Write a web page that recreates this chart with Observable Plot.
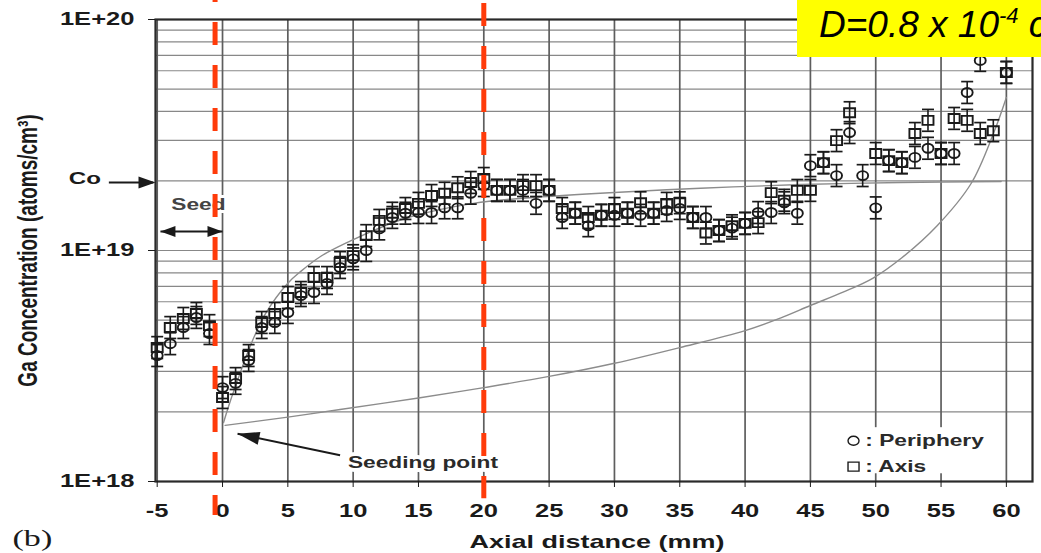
<!DOCTYPE html>
<html><head><meta charset="utf-8">
<script src="https://cdn.jsdelivr.net/npm/d3@7"></script>
<script src="https://cdn.jsdelivr.net/npm/@observablehq/plot@0.6"></script>
<style>
html,body{margin:0;padding:0;background:#fff;}
#wrap{position:relative;width:1041px;height:553px;overflow:hidden;}
#dbox{position:absolute;left:797px;top:0;width:244px;height:57px;background:#ffff00;overflow:hidden;white-space:nowrap;font-family:"Liberation Sans",Arial,sans-serif;font-style:italic;font-size:37px;line-height:50px;padding-left:22px;box-sizing:border-box;color:#000;}
#dbox sup{font-size:22px;vertical-align:14px;line-height:0;}
</style></head><body>
<div id="wrap"><div id="dbox">D=0.8 x 10<sup>-4</sup> cm<sup>2</sup>/s</div></div>
<script>
// ---- data ----
const xPos = [-5,-4,-3,-2,-1,0,1,2,3,4,5,6,7,8,9,10,11,12,13,14,15,16,17,18,19,20,21,22,23,24,25,26,27,28,29,30,31,32,33,34,35,36,37,38,39,40,41,42,43,44,45,46,47,48,49,50,51,52,53,54,55,56,57,58,59,60];
const axisConc = [3.80e18,4.64e18,5.08e18,5.34e18,4.73e18,
  2.31e18,2.79e18,3.51e18,4.88e18,5.34e18,6.26e18,6.58e18,7.64e18,7.64e18,8.87e18,9.5e18,
  1.16e19,1.35e19,1.45e19,1.52e19,1.60e19,1.73e19,1.77e19,1.87e19,1.97e19,2.05e19,
  1.82e19,1.82e19,1.91e19,1.91e19,1.82e19,1.52e19,1.45e19,1.39e19,1.42e19,1.52e19,
  1.45e19,1.61e19,1.45e19,1.60e19,1.61e19,1.39e19,1.19e19,1.22e19,1.28e19,1.31e19,
  1.32e19,1.78e19,1.65e19,1.82e19,1.82e19,2.40e19,2.99e19,3.95e19,null,2.63e19,
  2.45e19,2.40e19,3.21e19,3.66e19,2.63e19,3.73e19,3.66e19,3.21e19,3.30e19,5.90e19];
const periConc = [3.51e18,3.95e18,4.64e18,5.13e18,4.37e18,
  2.55e18,2.66e18,3.34e18,4.64e18,4.88e18,5.39e18,6.38e18,6.58e18,7.2e18,8.44e18,9.2e18,
  1.0e19,1.24e19,1.39e19,1.45e19,1.46e19,1.46e19,1.53e19,1.53e19,1.77e19,1.91e19,
  1.82e19,1.82e19,1.82e19,1.60e19,1.82e19,1.39e19,1.45e19,1.28e19,1.42e19,1.42e19,
  1.45e19,1.42e19,1.45e19,1.49e19,1.52e19,1.39e19,1.39e19,1.22e19,1.25e19,1.31e19,
  1.46e19,1.46e19,1.61e19,1.45e19,2.33e19,2.40e19,2.11e19,3.24e19,2.11e19,1.53e19,
  2.45e19,2.40e19,2.53e19,2.77e19,2.63e19,2.63e19,4.83e19,6.65e19,null,5.90e19];
const upperX = [0.08,0.61,1.15,2.14,3.29,4.98,5.97,7.5,9.8,12.3,14.4,19.2,22.8,28.9,36.6,44.3,51.9,59.6];
const upperC = [1.80e18,2.24e18,2.74e18,3.88e18,5.33e18,7.2e18,8.1e18,9.42e18,1.10e19,1.27e19,1.40e19,1.60e19,1.68e19,1.77e19,1.86e19,1.93e19,1.97e19,1.99e19];
const lowerX = [0.2,5,9,15,20,25,30,35,40,42.7,45,47.5,49.8,52,54.7,57.3,59,60];
const lowerC = [1.75e18,1.9e18,2.05e18,2.3e18,2.55e18,2.85e18,3.25e18,3.8e18,4.5e18,5.1e18,5.78e18,6.6e18,7.6e18,9.3e18,1.28e19,1.95e19,3.2e19,4.6e19];
const errFactor = 1.115;
const xTicks = [-5,0,5,10,15,20,25,30,35,40,45,50,55,60];
const yTicks = [1e18,1e19,1e20];
const yGrid = [2e18,3e18,4e18,5e18,6e18,7e18,8e18,9e18,1e19,2e19,3e19,4e19,5e19,6e19,7e19,8e19,9e19];
const redLineX = [-0.57, 20];
const C0 = 1.97e19;

// ---- annotation anchors (data units) ----
const coArrow = {x1:-8.7, x2:-5.3, y:C0, tipX:-5.13};
const seedArrow = {x1:-4.75, x2:0, y:1.21e19};
const seedLabel = {x:-1.84, y:1.57e19};
const seedPtArrow = {x1:9.0, y1:1.30e18, x2:1.15, y2:1.61e18};
const seedPtLabel = {x:9.6, y:1.21e18};
const legendBox = {x1:47.3, x2:59.6, y1:1.08e18, y2:1.71e18};
const legendRows = [{x:48.3, tx:49.2, y:1.50e18, label:": Periphery", kind:"c"},{x:48.3, tx:49.2, y:1.16e18, label:": Axis", kind:"s"}];

const axisData = xPos.map((x,i)=>({x, c:axisConc[i]})).filter(d=>d.c!=null);
const periData = xPos.map((x,i)=>({x, c:periConc[i]})).filter(d=>d.c!=null);
const allData = axisData.concat(periData);
const upper = upperX.map((x,i)=>({x, c:upperC[i]}));
const lower = lowerX.map((x,i)=>({x, c:lowerC[i]}));

// custom symbols
const squareSym = {draw(ctx){ ctx.rect(-5.5,-4.5,11,9); }};
const ellipseSym = {draw(ctx){ const a=5.5,b=4.5,k=0.5523;
  ctx.moveTo(a,0); ctx.bezierCurveTo(a,b*k,a*k,b,0,b); ctx.bezierCurveTo(-a*k,b,-a,b*k,-a,0);
  ctx.bezierCurveTo(-a,-b*k,-a*k,-b,0,-b); ctx.bezierCurveTo(a*k,-b,a,-b*k,a,0); ctx.closePath(); }};
const capSym = {draw(ctx){ ctx.moveTo(-6,0); ctx.lineTo(6,0); }};
function head(angle,len,wid){ const a=angle*Math.PI/180, ux=Math.cos(a), uy=Math.sin(a);
  return {draw(ctx){ const bx=-ux*len, by=-uy*len, px=-uy*wid/2, py=ux*wid/2;
    ctx.moveTo(0,0); ctx.lineTo(bx+px,by+py); ctx.lineTo(bx-px,by-py); ctx.closePath(); }}; }
const spAngle = Math.atan2(-22,-103)*180/Math.PI;

const font = "'Liberation Sans', Arial, sans-serif";
const ink = "#1a1a1a";

const chart = Plot.plot({
  width: 1041, height: 553,
  marginLeft: 155, marginRight: 9, marginTop: 19, marginBottom: 72,
  style: {fontFamily: font, fontWeight: "bold", fontSize: "18px", color: ink, background: "transparent"},
  x: {domain: [-5.13, 62.0]},
  y: {type: "log", domain: [1e18, 1e20]},
  marks: [
    Plot.ruleY(yGrid, {stroke: "#888", strokeWidth: 1.2}),
    Plot.ruleX(xTicks, {stroke: "#5e5e5e", strokeWidth: 1.7}),
    Plot.rect([legendBox], {x1: "x1", x2: "x2", y1: "y1", y2: "y2", fill: "white"}),
    Plot.frame({stroke: "#2a2a2a", strokeWidth: 2.2}),
    Plot.axisX({ticks: xTicks, tickSize: 6, tickPadding: 17, tickFormat: d => String(d), fontSize: 18, fontWeight: "bold", label: null, stroke: ink}),
    Plot.axisY({ticks: yTicks, tickSize: 7, tickPadding: 14, tickFormat: d => "1E+" + Math.round(Math.log10(d)), fontSize: 18, fontWeight: "bold", label: null, stroke: ink}),
    Plot.line(upper, {x: "x", y: "c", curve: "catmull-rom", stroke: "#8c8c8c", strokeWidth: 1.4}),
    Plot.line(lower, {x: "x", y: "c", curve: "catmull-rom", stroke: "#8c8c8c", strokeWidth: 1.4}),
    Plot.ruleX(allData, {x: "x", y1: d => d.c / errFactor, y2: d => d.c * errFactor, stroke: ink, strokeWidth: 1.6}),
    Plot.dot(allData, {x: "x", y: d => d.c / errFactor, symbol: capSym, stroke: ink, strokeWidth: 1.7}),
    Plot.dot(allData, {x: "x", y: d => d.c * errFactor, symbol: capSym, stroke: ink, strokeWidth: 1.7}),
    Plot.dot(periData, {x: "x", y: "c", symbol: ellipseSym, stroke: ink, strokeWidth: 1.9, fill: "none"}),
    Plot.dot(axisData, {x: "x", y: "c", symbol: squareSym, stroke: ink, strokeWidth: 1.9, fill: "none"}),
    // C0 annotation
    Plot.text(["Co"], {x: -9.3, y: 2.05e19, textAnchor: "end", fontSize: 17, fontWeight: "bold", fill: ink}),
    Plot.link([coArrow], {x1: "x1", x2: "x2", y1: "y", y2: "y", stroke: ink, strokeWidth: 2}),
    Plot.dot([coArrow], {x: "tipX", y: "y", symbol: head(0,17,12), fill: ink, stroke: "none"}),
    // seed annotation
    Plot.text(["Seed"], {x: seedLabel.x, y: seedLabel.y, fontSize: 16, fontWeight: "bold", fill: "#444", stroke: "white", strokeWidth: 6}),
    Plot.link([seedArrow], {x1: "x1", x2: "x2", y1: "y", y2: "y", stroke: ink, strokeWidth: 2}),
    Plot.dot([seedArrow], {x: "x2", y: "y", symbol: head(0,15,11), fill: ink, stroke: "none"}),
    Plot.dot([seedArrow], {x: "x1", y: "y", symbol: head(180,15,11), fill: ink, stroke: "none"}),
    // seeding point annotation
    Plot.text(["Seeding point"], {x: seedPtLabel.x, y: seedPtLabel.y, textAnchor: "start", fontSize: 16, fontWeight: "bold", fill: "#2a2a2a", stroke: "white", strokeWidth: 8}),
    Plot.link([seedPtArrow], {x1: "x1", y1: "y1", x2: "x2", y2: "y2", stroke: ink, strokeWidth: 2}),
    Plot.dot([seedPtArrow], {x: "x2", y: "y2", symbol: head(spAngle,22,13), fill: ink, stroke: "none"}),
    // legend
    Plot.dot(legendRows.filter(d => d.kind === "c"), {x: "x", y: "y", symbol: ellipseSym, stroke: ink, strokeWidth: 1.4, fill: "none"}),
    Plot.dot(legendRows.filter(d => d.kind === "s"), {x: "x", y: "y", symbol: squareSym, stroke: ink, strokeWidth: 1.4, fill: "none"}),
    Plot.text(legendRows, {x: "tx", y: "y", text: "label", textAnchor: "start", fontSize: 16, fontWeight: "bold", fill: "#2a2a2a"}),
    // axis titles and panel tag
    Plot.text(["Axial distance (mm)"], {frameAnchor: "bottom", textAnchor: "middle", lineAnchor: "middle", dy: 60, dx: 3, fontSize: 19, fontWeight: "bold", fill: ink}),
    Plot.text(["Ga Concentration (atoms/cm³)"], {frameAnchor: "left", textAnchor: "middle", lineAnchor: "middle", rotate: -90, dx: -127, fontSize: 19, fontWeight: "bold", fill: ink}),
    Plot.text(["(b)"], {frameAnchor: "bottom-left", textAnchor: "start", lineAnchor: "middle", dx: -143, dy: 57, fontSize: 24, fontWeight: "normal", fontFamily: "'Liberation Serif', 'Times New Roman', serif", fill: ink}),
    // red dashed markers
    Plot.ruleX([{x: redLineX[0], top: 1.208e20, bottom: 7.13e17}], {x: "x", y1: "top", y2: "bottom", stroke: "#ff3b0a", strokeWidth: 5, strokeDasharray: "23,20", strokeDashoffset: 21}),
    Plot.ruleX([{x: redLineX[1], top: 1.208e20, bottom: 8.43e17}], {x: "x", y1: "top", y2: "bottom", stroke: "#ff3b0a", strokeWidth: 5, strokeDasharray: "23,20", strokeDashoffset: 40})
  ]
});

// the source figure is horizontally stretched: widen every text glyph about its anchor
const S = 1.42;
chart.querySelectorAll("text").forEach(t => {
  const tr = t.getAttribute("transform");
  if (tr) t.setAttribute("transform", tr + (tr.includes("rotate") ? ` scale(1,${S})` : ` scale(${S},1)`));
  else { const x = +t.getAttribute("x") || 0; t.setAttribute("transform", `translate(${x},0) scale(${S},1) translate(${-x},0)`); }
});
chart.style.position = "absolute"; chart.style.left = "0"; chart.style.top = "0";
const wrap = document.getElementById("wrap");
wrap.insertBefore(chart, wrap.firstChild);
</script>
</body></html>
